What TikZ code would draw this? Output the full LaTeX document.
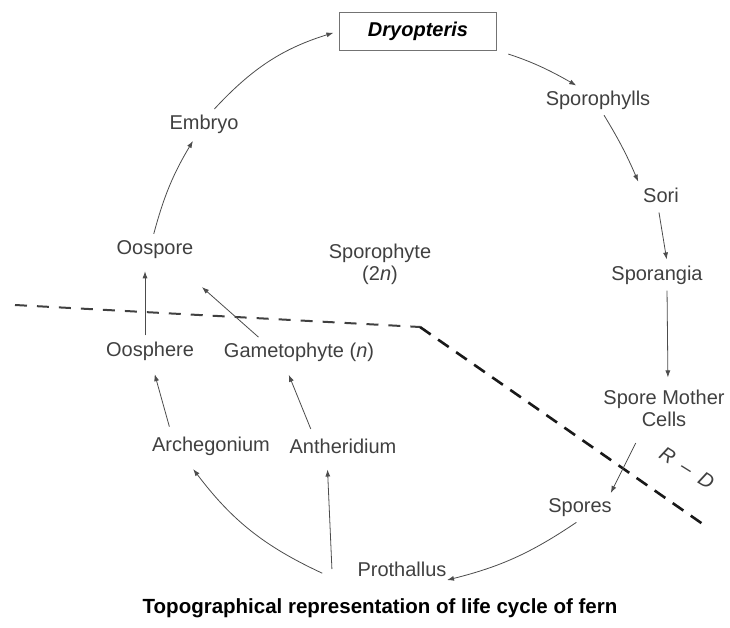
\documentclass[tikz,border=0pt]{standalone}
\usepackage{fontspec}
\setmainfont{Liberation Sans}
\usetikzlibrary{arrows.meta}
\begin{document}
\begin{tikzpicture}[x=1pt,y=1pt,
  lbl/.style={font=\fontsize{20}{22}\selectfont, text=black!75, inner sep=4pt, align=center},
  arr/.style={-{Latex[length=7pt,width=5pt]}, line width=0.8pt, draw=black!70, shorten >=2pt, shorten <=2pt},
  cutl/.style={line width=2pt, dash pattern=on 12pt off 10pt, draw=black!75},
  cutr/.style={line width=2.6pt, dash pattern=on 13pt off 9pt, draw=black!90}]
\useasboundingbox (0,0) rectangle (730,-628);
% nodes
\node[draw=black!55, line width=0.7pt, minimum width=157pt, minimum height=38pt,
      font=\bfseries\itshape\fontsize{20}{22}\selectfont] (dry) at (418,-31) {Dryopteris};
\node[lbl] (spphy) at (598,-100) {Sporophylls};
\node[lbl] (sori) at (661,-195) {Sori};
\node[lbl] (sporg) at (657,-275) {Sporangia};
\node[lbl] (smc) at (664,-408) {Spore Mother\\Cells};
\node[lbl] (spores) at (580,-508) {Spores};
\node[lbl] (proth) at (402,-569) {Prothallus};
\node[lbl] (arch) at (211,-446) {Archegonium};
\node[lbl] (anth) at (343,-446) {Antheridium};
\node[lbl] (oosph) at (150,-351) {Oosphere};
\node[lbl] (gam) at (299,-352) {Gametophyte (\textit{n})};
\node[lbl] (oosp) at (155,-250) {Oospore};
\node[lbl] (emb) at (204,-124) {Embryo};
\node[lbl] (s2n) at (380,-264) {Sporophyte\\(2\textit{n})};
\node[lbl, rotate=-32, inner sep=1pt] (rd) at (687,-468) {\textit{R\enspace--\enspace D}};
\node[font=\bfseries\fontsize{20.5}{22}\selectfont, inner sep=2pt] (cap) at (380,-608)
  {Topographical representation of life cycle of fern};
\coordinate (pv) at (332,-571);
\coordinate (pc) at (324,-574);
\coordinate (d1) at (15,-305);
\coordinate (d2) at (420,-327);
\coordinate (d3) at (707,-527);
% dashed boundary
\draw[cutl] (d1) -- (d2);
\draw[cutr] (d2) -- (d3);
% cycle arrows
\draw[arr, shorten >=6pt] ([xshift=9pt]emb.north) to[bend left=15] (dry.west);
\draw[arr, shorten <=12pt] (dry.south east) to[bend left=6] ([xshift=-20pt]spphy.north);
\draw[arr] ([xshift=5pt]spphy.south) to[bend left=4] (sori.north west);
\draw[arr, shorten <=6pt] ([xshift=-3pt]sori.south) -- ([xshift=10pt]sporg.north);
\draw[arr, shorten >=8pt] ([xshift=10pt]sporg.south) -- ([xshift=4pt]smc.north);
\draw[arr, shorten <=14pt] ([xshift=-22pt]smc.south) -- ([xshift=-6pt]spores.north east);
\draw[arr] ([xshift=-2pt]spores.south) to[bend left=10] (proth.-15);
\draw[arr] (pc) to[bend left=14] ([xshift=-19pt,yshift=-8pt]arch.south);
\draw[arr, shorten >=12pt] (pv) -- ([xshift=-16pt]anth.south);
\draw[arr, shorten >=10pt, shorten <=6pt] ([xshift=-40pt]arch.north) -- ([xshift=2pt]oosph.south);
\draw[arr, shorten >=10pt, shorten <=6pt] ([xshift=-30pt]anth.north) -- ([xshift=-14pt]gam.south);
\draw[arr, shorten >=8pt] ([xshift=-5pt]oosph.north) -- ([xshift=-10pt]oosp.south);
\draw[arr, shorten >=36pt] ([xshift=-39pt]gam.north) -- ([xshift=20pt]oosp.south);
\draw[arr, shorten <=3pt, shorten >=4pt] ([xshift=-2pt]oosp.north) to[bend left=8] ([xshift=-9pt]emb.south);
\end{tikzpicture}
\end{document}
